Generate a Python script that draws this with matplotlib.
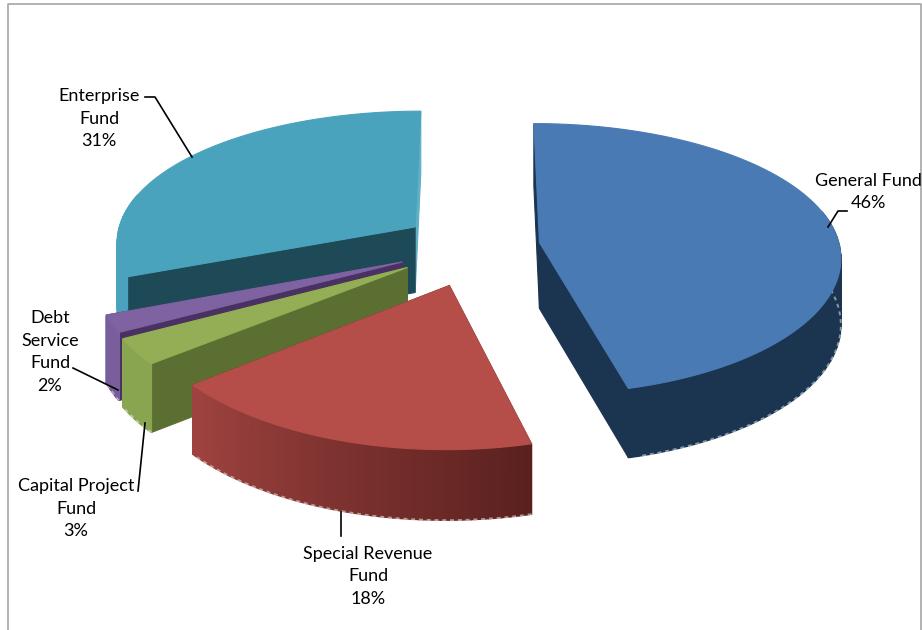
import numpy as np
import matplotlib
matplotlib.use('Agg')
import matplotlib.pyplot as plt
from matplotlib.patches import Polygon
from matplotlib.colors import to_rgb

# fund shares, %
funds = ['General Fund', 'Special Revenue\nFund', 'Capital Project\nFund', 'Debt\nService\nFund', 'Enterprise\nFund']
shares = [46, 18, 3, 2, 31]

# how far every slice is pulled out of the pie
explode = [0.207, 0.3, 0.28, 0.275, 0.257]
top_col = ['#4a7ab3', '#b54e49', '#93ae55', '#7f62a1', '#4aa3bc']
# colours of the cut faces, first and last spoke of a slice
cut_first = ['#1b3450', '#5a211f', '#5b6f32', '#4a3163', '#1e4a58']
cut_last = ['#1b3450', '#5a211f', '#5b6f32', '#4a3163', '#5fb0c6']
wall_from = ['#1b3450', '#5a211f', '#8aa54f', '#7a5e9c', '#4aa3bc']
wall_to = ['#1b3450', '#a04340', '#8aa54f', '#7a5e9c', '#4aa3bc']
fringe = ['#b9c2cc', '#d8c4c2', '#d5dcc0', '#c9bfd6', None]

# projection of the pie plane to the screen
cx, cy = 478, 246
rx, ry = 300, 134
persp_x, persp_y = 0.10, 0.12
depth = 66

plt.rcParams['font.family'] = ['Lato', 'DejaVu Sans']
fig = plt.figure(figsize=(9.22, 6.3), dpi=100)
ax = fig.add_axes([0, 0, 1, 1])
ax.set_xlim(0, 922)
ax.set_ylim(630, 0)
ax.axis('off')


def project(X, Y, low=False):
    y = cy - ry * Y / (1 + persp_y * Y)
    if low:
        y = y + depth / (1 + 0.05 * Y)
    return cx + rx * X / (1 + persp_x * Y), y


def face(pts, col, z, lw=0.8):
    ax.add_patch(Polygon(pts, closed=True, facecolor=col, edgecolor=col, lw=lw, zorder=z))


def draw_slice(i, t0, t1, z):
    mid = np.radians((t0 + t1) / 2)
    ox, oy = explode[i] * np.sin(mid), explode[i] * np.cos(mid)
    th = np.radians(np.linspace(t0, t1, 90))
    X = ox + np.sin(th)
    Y = oy + np.cos(th)

    # the two cut faces go under the outer wall
    for k, col in ((-1, cut_last[i]), (0, cut_first[i])):
        face([project(ox, oy), project(X[k], Y[k]),
              project(X[k], Y[k], True), project(ox, oy, True)], col, z)

    # outer wall, split in strips so the shading can change along the rim
    c0, c1 = np.array(to_rgb(wall_from[i])), np.array(to_rgb(wall_to[i]))
    low_rim = []
    for j in range(len(th) - 1):
        if np.cos(th[j]) > 0.25:
            continue
        f = j / (len(th) - 2)
        col = c0 + (c1 - c0) * f
        face([project(X[j], Y[j]), project(X[j + 1], Y[j + 1]),
              project(X[j + 1], Y[j + 1], True), project(X[j], Y[j], True)], col, z + 0.1, lw=1.0)
        low_rim.append(project(X[j], Y[j], True))

    # pale speckled line under the wall
    if fringe[i] is not None and low_rim:
        xs, ys = zip(*low_rim)
        ax.plot(xs, ys, color=fringe[i], lw=1.4, ls=(0, (2, 2)), alpha=0.7, zorder=z + 0.15)

    # top of the slice
    top = [project(ox, oy)] + [project(a, b) for a, b in zip(X, Y)]
    face(top, top_col[i], z + 0.2)


edges = np.concatenate([[0], np.cumsum(shares)]) * 360 / sum(shares)
# back slices first
for n, i in enumerate([4, 3, 2, 0, 1]):
    draw_slice(i, edges[i], edges[i + 1], n + 2)

# chart frame
ax.plot([8, 8, 921, 921], [630, 4, 4, 630], color='#a6a6a6', lw=1.2, zorder=1)

label_pos = [(868, 192), (368, 576), (76, 509), (50, 352), (99, 119)]
for i in range(len(funds)):
    ax.text(label_pos[i][0], label_pos[i][1], funds[i] + '\n' + str(shares[i]) + '%',
            ha='center', va='center', fontsize=13, linespacing=1.5, color='black', zorder=20)

leaders = [
    ([847, 838, 828], [211, 211, 227]),
    ([341, 341], [512, 536]),
    ([138, 145], [491, 423]),
    ([73, 118], [368, 390]),
    ([145, 155, 192], [97, 97, 157]),
]
for xs, ys in leaders:
    ax.plot(xs, ys, color='black', lw=1.2, zorder=15)

fig.savefig('out.png', dpi=100, facecolor='white')
